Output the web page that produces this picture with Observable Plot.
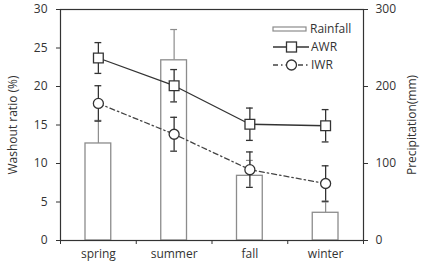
<!DOCTYPE html>
<html><head><meta charset="utf-8">
<script src="https://cdn.jsdelivr.net/npm/d3@7"></script>
<script src="https://cdn.jsdelivr.net/npm/@observablehq/plot@0.6"></script>
<style>
body{margin:0;background:#fff}
#chart svg{font-family:"Open Sans",sans-serif;overflow:visible}
</style>
</head><body><div id="chart"></div>
<script>
const seasons = ["spring", "summer", "fall", "winter"];
const rainfall = [126, 234, 84, 36];        // mm
const rainfallErr = [30, 40, 20, 14];
const awr = [23.7, 20.1, 15.1, 14.9];        // %
const awrErr = [2.0, 2.1, 2.1, 2.1];
const iwr = [17.8, 13.8, 9.2, 7.4];
const iwrErr = [2.3, 2.2, 2.3, 2.3];
const leftTicks = [0, 5, 10, 15, 20, 25, 30];
const rightTicks = [0, 100, 200, 300];
const mmPerPercent = 10;

const rows = seasons.map((s, i) => ({
  season: s, pos: i + 0.5,
  rain: rainfall[i] / mmPerPercent,
  rainTop: (rainfall[i] + rainfallErr[i]) / mmPerPercent,
  awr: awr[i], awrLo: awr[i] - awrErr[i], awrHi: awr[i] + awrErr[i],
  iwr: iwr[i], iwrLo: iwr[i] - iwrErr[i], iwrHi: iwr[i] + iwrErr[i]
}));

const barHalf = 0.17, capHalf = 0.045;
const ink = "#333", grey = "#8c8c8c";

const plot = Plot.plot({
  width: 422, height: 263,
  marginLeft: 60, marginRight: 59, marginTop: 9, marginBottom: 23,
  x: {type: "linear", domain: [0, seasons.length]},
  y: {domain: [0, 30]},
  style: {fontSize: "12px", color: ink, background: "white"},
  marks: [
    Plot.ruleX(rows, {x: "pos", y1: "rain", y2: "rainTop", stroke: grey, strokeWidth: 1.2}),
    Plot.ruleY(rows, {y: "rainTop", x1: d => d.pos - capHalf, x2: d => d.pos + capHalf, stroke: grey, strokeWidth: 1.2}),
    Plot.rectY(rows, {x1: d => d.pos - barHalf, x2: d => d.pos + barHalf, y: "rain", fill: "white", stroke: grey, strokeWidth: 1.3}),
    Plot.ruleX(rows, {x: "pos", y1: "awrLo", y2: "awrHi", stroke: ink, strokeWidth: 1.3}),
    Plot.ruleY(rows, {y: "awrLo", x1: d => d.pos - capHalf, x2: d => d.pos + capHalf, stroke: ink, strokeWidth: 1.3}),
    Plot.ruleY(rows, {y: "awrHi", x1: d => d.pos - capHalf, x2: d => d.pos + capHalf, stroke: ink, strokeWidth: 1.3}),
    Plot.line(rows, {x: "pos", y: "awr", stroke: ink, strokeWidth: 1.3}),
    Plot.ruleX(rows, {x: "pos", y1: "iwrLo", y2: "iwrHi", stroke: ink, strokeWidth: 1.3}),
    Plot.ruleY(rows, {y: "iwrLo", x1: d => d.pos - capHalf, x2: d => d.pos + capHalf, stroke: ink, strokeWidth: 1.3}),
    Plot.ruleY(rows, {y: "iwrHi", x1: d => d.pos - capHalf, x2: d => d.pos + capHalf, stroke: ink, strokeWidth: 1.3}),
    Plot.line(rows, {x: "pos", y: "iwr", stroke: "#444", strokeWidth: 1.3, strokeDasharray: "5,3,1.5,3"}),
    Plot.dot(rows, {x: "pos", y: "awr", symbol: "square", r: 5.5, fill: "white", stroke: ink, strokeWidth: 1.3}),
    Plot.dot(rows, {x: "pos", y: "iwr", symbol: "circle", r: 5, fill: "white", stroke: ink, strokeWidth: 1.3}),
    Plot.frame({stroke: ink, strokeWidth: 1.2}),
    Plot.axisY({anchor: "left", ticks: leftTicks, tickSize: 4, tickPadding: 9, label: "Washout ratio (%)",
      labelAnchor: "center", labelOffset: 52, labelArrow: false, fontSize: 12}),
    Plot.axisY({anchor: "right", ticks: rightTicks.map(v => v / mmPerPercent), tickFormat: d => d * mmPerPercent,
      tickSize: 4, tickPadding: 8, label: "Precipitation(mm)", labelAnchor: "center", labelOffset: 52, labelArrow: false, fontSize: 12}),
    Plot.axisX({ticks: d3.range(0, seasons.length + 1), tickSize: 4, tickFormat: () => "", label: null, stroke: ink}),
    Plot.axisX({ticks: rows.map(d => d.pos), tickSize: 0, tickPadding: 9, tickFormat: d => seasons[Math.floor(d)], fontSize: 12, label: null})
  ]
});

const svg = d3.select(plot);
const lg = svg.append("g").attr("font-size", 12).attr("fill", ink).attr("text-anchor", "start");
lg.append("rect").attr("x", 273).attr("y", 27).attr("width", 33).attr("height", 4)
  .attr("fill", "white").attr("stroke", grey).attr("stroke-width", 1.2);
lg.append("text").attr("x", 310).attr("y", 29).attr("dy", "0.35em").text("Rainfall");
lg.append("line").attr("x1", 273).attr("x2", 309).attr("y1", 47).attr("y2", 47).attr("stroke", ink).attr("stroke-width", 1.3);
lg.append("rect").attr("x", 286.5).attr("y", 42).attr("width", 10).attr("height", 10).attr("fill", "white").attr("stroke", ink).attr("stroke-width", 1.3);
lg.append("text").attr("x", 311).attr("y", 47).attr("dy", "0.35em").text("AWR");
lg.append("line").attr("x1", 273).attr("x2", 309).attr("y1", 65).attr("y2", 65).attr("stroke", "#444").attr("stroke-width", 1.3).attr("stroke-dasharray", "5,3,1.5,3");
lg.append("circle").attr("cx", 291.5).attr("cy", 65).attr("r", 5).attr("fill", "white").attr("stroke", ink).attr("stroke-width", 1.3);
lg.append("text").attr("x", 311).attr("y", 65).attr("dy", "0.35em").text("IWR");

document.getElementById("chart").append(plot);
</script>
</body></html>
